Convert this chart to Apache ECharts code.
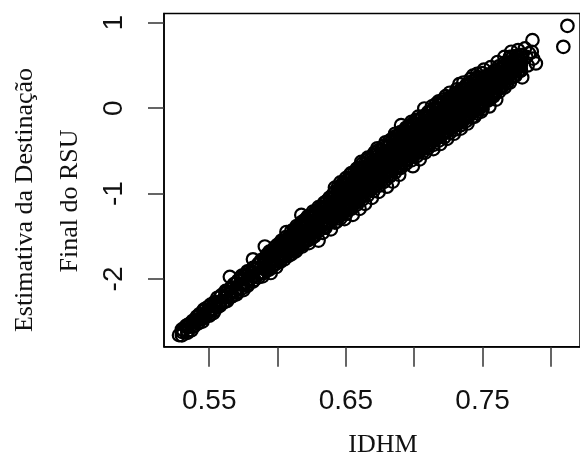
<!DOCTYPE html>
<html>
<head>
<meta charset="utf-8">
<script src="https://cdn.jsdelivr.net/npm/echarts@6/dist/echarts.min.js"></script>
<style>html,body{margin:0;padding:0;background:#fff}#c{width:580px;height:457px}</style>
</head>
<body>
<div id="c"></div>
<script>
const xTicks = [0.55, 0.60, 0.65, 0.70, 0.75, 0.80];
const xLabels = [0.55, 0.65, 0.75];
const yTicks = [-2, -1, 0, 1];
const xTitle = 'IDHM';
const yTitle = ['Estimativa da Destinação', 'Final do RSU'];

// Scattered points (edges and outliers): [IDHM, Estimativa]
const pontosBorda = [
  [0.5279,-2.658],[0.531,-2.60],[0.533,-2.55],[0.534,-2.63],
  [0.536,-2.52],[0.537,-2.60],[0.539,-2.49],[0.539,-2.55],
  [0.541,-2.44],[0.542,-2.52],[0.543,-2.41],[0.544,-2.47],[0.545,-2.50],
  [0.546,-2.36],[0.547,-2.44],[0.548,-2.34],[0.549,-2.40],[0.550,-2.43],
  [0.551,-2.30],[0.552,-2.37],[0.553,-2.40],[0.554,-2.28],[0.555,-2.33],
  [0.556,-2.22],[0.557,-2.32],[0.558,-2.27],[0.559,-2.19],[0.560,-2.28],
  [0.561,-2.22],[0.562,-2.14],[0.563,-2.26],[0.564,-2.18],[0.5651,-1.975],
  [0.566,-2.10],[0.567,-2.20],[0.568,-2.06],[0.569,-2.14],[0.570,-2.18],
  [0.571,-2.02],[0.572,-2.10],[0.573,-1.98],[0.574,-2.07],[0.575,-2.13],
  [0.576,-1.95],[0.577,-2.04],[0.578,-2.08],[0.579,-1.91],[0.580,-2.00],
  [0.581,-1.92],[0.582,-1.77],[0.583,-2.01],[0.584,-1.87],[0.585,-1.96],
  [0.586,-1.83],[0.587,-1.93],[0.588,-1.78],[0.589,-1.97],[0.590,-1.87],
  [0.5907,-1.62],[0.591,-1.78],[0.592,-1.90],[0.593,-1.72],[0.594,-1.84],[0.595,-1.93],
  [0.596,-1.68],[0.597,-1.80],[0.598,-1.63],[0.599,-1.86],[0.600,-1.74],[0.600,-1.60],
  [0.601,-1.66],[0.602,-1.80],[0.603,-1.55],[0.604,-1.71],[0.605,-1.77],[0.605,-1.60],
  [0.6065,-1.45],[0.607,-1.62],[0.608,-1.73],[0.609,-1.52],[0.610,-1.67],[0.610,-1.58],
  [0.611,-1.48],[0.612,-1.62],[0.613,-1.68],[0.614,-1.42],[0.615,-1.56],[0.615,-1.63],
  [0.6174,-1.25],[0.616,-1.38],[0.617,-1.52],[0.618,-1.62],[0.619,-1.45],[0.620,-1.55],[0.620,-1.36],
  [0.621,-1.30],[0.622,-1.48],[0.623,-1.58],[0.624,-1.40],[0.625,-1.26],[0.625,-1.52],
  [0.626,-1.35],[0.627,-1.50],[0.628,-1.22],[0.629,-1.42],[0.630,-1.55],[0.630,-1.30],
  [0.631,-1.18],[0.632,-1.36],[0.633,-1.46],[0.634,-1.26],[0.635,-1.10],[0.635,-1.40],
  [0.636,-1.22],[0.637,-1.34],[0.638,-1.05],[0.639,-1.42],[0.640,-1.15],[0.640,-1.28],
  [0.641,-1.00],[0.642,-1.22],[0.643,-1.33],[0.644,-1.10],[0.645,-0.96],[0.645,-1.26],[0.643,-1.16],
  [0.646,-1.05],[0.647,-1.20],[0.648,-0.90],[0.649,-1.30],[0.650,-1.10],[0.650,-0.98],[0.648,-1.15],
  [0.651,-0.85],[0.652,-1.02],[0.653,-1.18],[0.654,-0.92],[0.655,-1.25],[0.655,-1.06],[0.653,-0.78],
  [0.656,-0.95],[0.657,-0.80],[0.658,-1.10],[0.659,-0.70],[0.660,-0.88],[0.660,-1.18],[0.658,-1.00],
  [0.6612,-0.63],[0.662,-0.82],[0.663,-0.98],[0.664,-1.12],[0.665,-0.74],[0.665,-0.90],[0.663,-0.70],
  [0.666,-0.58],[0.667,-0.80],[0.668,-0.95],[0.669,-1.05],[0.670,-0.68],[0.670,-0.86],[0.668,-0.74],
  [0.671,-0.52],[0.672,-0.72],[0.673,-0.88],[0.674,-0.98],[0.675,-0.62],[0.675,-0.78],[0.673,-0.47],
  [0.676,-0.55],[0.677,-0.70],[0.678,-0.86],[0.679,-0.40],[0.680,-0.62],[0.680,-0.92],[0.678,-0.75],
  [0.681,-0.45],[0.682,-0.60],[0.683,-0.78],[0.6843,-0.86],[0.684,-0.36],[0.685,-0.52],[0.685,-0.68],
  [0.686,-0.30],[0.687,-0.48],[0.688,-0.62],[0.689,-0.78],[0.690,-0.40],[0.690,-0.55],[0.688,-0.70],
  [0.6904,-0.199],[0.691,-0.35],[0.692,-0.50],[0.693,-0.66],[0.694,-0.28],[0.695,-0.45],[0.695,-0.60],
  [0.696,-0.22],[0.697,-0.38],[0.698,-0.55],[0.699,-0.68],[0.700,-0.30],[0.700,-0.46],[0.698,-0.16],
  [0.701,-0.14],[0.702,-0.32],[0.703,-0.48],[0.704,-0.60],[0.705,-0.24],[0.705,-0.40],[0.703,-0.10],
  [0.7074,-0.004],[0.706,-0.18],[0.707,-0.35],[0.708,-0.52],[0.709,-0.26],[0.710,-0.10],[0.710,-0.42],
  [0.711,-0.04],[0.712,-0.20],[0.713,-0.38],[0.714,-0.48],[0.715,-0.12],[0.715,-0.28],[0.713,0.02],
  [0.716,0.05],[0.717,-0.15],[0.718,-0.32],[0.719,-0.42],[0.720,-0.06],[0.720,-0.22],[0.718,0.08],
  [0.721,0.10],[0.722,-0.08],[0.723,-0.26],[0.724,-0.36],[0.725,0.00],[0.725,-0.16],[0.723,0.14],
  [0.726,0.18],[0.727,-0.02],[0.728,-0.20],[0.729,-0.30],[0.730,0.06],[0.730,-0.10],[0.728,0.12],
  [0.731,0.22],[0.732,0.04],[0.733,-0.14],[0.734,-0.24],[0.735,0.12],[0.735,-0.04],[0.733,0.28],
  [0.736,0.30],[0.737,0.10],[0.738,-0.08],[0.739,-0.18],[0.740,0.18],[0.740,0.02],[0.738,0.25],
  [0.741,0.34],[0.742,0.16],[0.743,-0.02],[0.744,-0.10],[0.745,0.24],[0.745,0.08],[0.743,0.38],
  [0.746,0.40],[0.747,0.22],[0.748,0.04],[0.749,-0.04],[0.750,0.30],[0.750,0.14],
  [0.751,0.45],[0.752,0.28],[0.753,0.10],[0.754,0.36],[0.755,0.20],[0.755,0.02],
  [0.756,0.48],[0.757,0.32],[0.758,0.16],[0.759,0.40],[0.760,0.24],[0.760,0.10],
  [0.761,0.54],[0.762,0.38],[0.763,0.24],[0.764,0.46],[0.765,0.32],
  [0.766,0.60],[0.767,0.44],[0.768,0.30],[0.769,0.52],[0.770,0.40],
  [0.771,0.66],[0.772,0.50],[0.773,0.38],[0.774,0.58],[0.775,0.46],
  [0.776,0.68],[0.777,0.56],[0.778,0.44],[0.779,0.36],[0.779,0.62],
  [0.781,0.70],[0.782,0.60],[0.783,0.50],[0.784,0.64],
  [0.7865,0.796],[0.789,0.523],[0.786,0.66],[0.787,0.58],[0.8091,0.718],[0.8121,0.964]
];

// Dense core of the cloud, read column by column: IDHM of each column ...
const nucleoIdhm = [
  0.530,0.534,0.538,0.542,0.546,0.550,0.554,0.558,0.562,0.566,0.570,0.574,0.578,0.582,0.586,0.590,
  0.594,0.598,0.602,0.606,0.610,0.614,0.618,0.622,0.626,0.630,0.634,0.638,0.642,0.646,0.650,0.654,
  0.658,0.662,0.666,0.670,0.674,0.678,0.682,0.686,0.690,0.694,0.698,0.702,0.706,0.710,0.714,0.718,
  0.722,0.726,0.730,0.734,0.738,0.742,0.746,0.750,0.754,0.758,0.762,0.766,0.770,0.774,0.778
];
// ... and the estimates stacked in that column
const nucleoEst = [
  [-2.66,-2.62,-2.59],[-2.61,-2.57,-2.54],[-2.56,-2.53,-2.49],[-2.51,-2.47,-2.44],
  [-2.46,-2.42,-2.37],[-2.42,-2.36,-2.32],[-2.37,-2.31,-2.27],[-2.31,-2.27,-2.21],
  [-2.26,-2.20,-2.16],[-2.21,-2.15,-2.11],[-2.16,-2.11,-2.05],[-2.11,-2.06,-2.00,-1.96],
  [-2.06,-2.01,-1.95,-1.91],[-2.03,-1.97,-1.93,-1.87],[-1.98,-1.93,-1.87,-1.82],[-1.93,-1.88,-1.82,-1.77],
  [-1.89,-1.83,-1.79,-1.73,-1.68],[-1.83,-1.78,-1.72,-1.67,-1.63],[-1.78,-1.73,-1.67,-1.61,-1.58],[-1.73,-1.66,-1.62,-1.56,-1.51],
  [-1.71,-1.65,-1.59,-1.54,-1.49,-1.44],[-1.66,-1.61,-1.54,-1.48,-1.43,-1.38],[-1.60,-1.55,-1.49,-1.44,-1.37,-1.33],[-1.55,-1.48,-1.43,-1.38,-1.32,-1.27],
  [-1.50,-1.45,-1.38,-1.33,-1.28,-1.21],[-1.44,-1.39,-1.34,-1.27,-1.21,-1.16],[-1.39,-1.34,-1.27,-1.22,-1.17,-1.11],[-1.34,-1.28,-1.23,-1.17,-1.10,-1.05],
  [-1.34,-1.27,-1.22,-1.16,-1.11,-1.04,-0.98,-0.93],[-1.29,-1.23,-1.18,-1.11,-1.05,-1.00,-0.93,-0.87],[-1.24,-1.18,-1.13,-1.06,-1.00,-0.94,-0.89,-0.82],[-1.18,-1.13,-1.06,-1.00,-0.95,-0.88,-0.82,-0.76],
  [-1.13,-1.07,-1.02,-0.95,-0.89,-0.84,-0.77,-0.71],[-1.07,-1.02,-0.95,-0.89,-0.83,-0.78,-0.71,-0.65],[-1.02,-0.96,-0.91,-0.84,-0.78,-0.72,-0.67,-0.60],[-0.97,-0.91,-0.85,-0.80,-0.73,-0.67,-0.62,-0.55],
  [-0.91,-0.86,-0.79,-0.73,-0.68,-0.61,-0.55,-0.49],[-0.86,-0.80,-0.75,-0.68,-0.62,-0.56,-0.51,-0.44],[-0.80,-0.74,-0.69,-0.62,-0.56,-0.51,-0.44,-0.38],[-0.75,-0.70,-0.63,-0.57,-0.52,-0.45,-0.39,-0.33],
  [-0.70,-0.64,-0.59,-0.52,-0.46,-0.41,-0.34,-0.28],[-0.65,-0.60,-0.53,-0.47,-0.42,-0.35,-0.29,-0.23],[-0.61,-0.55,-0.50,-0.43,-0.37,-0.32,-0.25,-0.19],[-0.56,-0.51,-0.44,-0.38,-0.33,-0.26,-0.20,-0.14],
  [-0.52,-0.46,-0.41,-0.34,-0.28,-0.23,-0.16,-0.10],[-0.47,-0.42,-0.35,-0.29,-0.24,-0.17,-0.11,-0.05],[-0.43,-0.37,-0.32,-0.25,-0.19,-0.14,-0.07,-0.01],[-0.38,-0.33,-0.26,-0.20,-0.15,-0.08,-0.02,0.04],
  [-0.34,-0.28,-0.23,-0.16,-0.10,-0.05,0.02,0.08],[-0.29,-0.24,-0.17,-0.11,-0.06,0.01,0.07,0.13],[-0.25,-0.19,-0.14,-0.07,-0.01,0.04,0.11,0.17],[-0.20,-0.15,-0.08,-0.02,0.03,0.10,0.16,0.22],
  [-0.15,-0.10,-0.03,0.03,0.08,0.15,0.21,0.27],[-0.11,-0.05,0.00,0.07,0.13,0.18,0.25,0.31],[-0.06,0.00,0.05,0.12,0.18,0.23,0.30,0.36],[-0.01,0.04,0.11,0.17,0.22,0.29,0.35,0.41],
  [0.09,0.14,0.21,0.27,0.32,0.39],[0.14,0.20,0.25,0.32,0.38,0.43],[0.19,0.24,0.31,0.37,0.42,0.49],[0.24,0.30,0.35,0.42,0.48,0.53],
  [0.30,0.35,0.42,0.48,0.53,0.60],[0.38,0.43,0.50,0.56,0.61],[0.44,0.50,0.55,0.62]
];

// Second, staggered set of core columns, where the cloud is solid
const nucleo2Idhm = [
  0.592,0.596,0.600,0.604,0.608,0.612,0.616,0.620,0.624,0.628,0.632,0.636,0.640,0.644,0.648,0.652,
  0.656,0.660,0.664,0.668,0.672,0.676,0.680,0.684,0.688,0.692,0.696,0.700,0.704,0.708,0.712,0.716,
  0.720,0.724,0.728,0.732,0.736,0.740,0.744,0.748,0.752,0.756,0.760,0.764,0.768,0.772,0.776
];
const nucleo2Est = [
  [-1.90,-1.84,-1.79,-1.72],[-1.85,-1.78,-1.73,-1.67],[-1.79,-1.74,-1.67,-1.61],[-1.74,-1.68,-1.63,-1.56],
  [-1.69,-1.63,-1.58,-1.51],[-1.66,-1.60,-1.55,-1.48,-1.42],[-1.61,-1.56,-1.49,-1.43,-1.38],[-1.55,-1.49,-1.44,-1.37,-1.31],
  [-1.50,-1.45,-1.38,-1.32,-1.27],[-1.44,-1.38,-1.33,-1.26,-1.20],[-1.39,-1.34,-1.27,-1.21,-1.16],[-1.33,-1.27,-1.22,-1.15,-1.09],
  [-1.28,-1.23,-1.16,-1.10,-1.05],[-1.29,-1.23,-1.18,-1.11,-1.05,-1.00,-0.93],[-1.23,-1.17,-1.12,-1.05,-0.99,-0.94,-0.87],[-1.18,-1.12,-1.07,-1.00,-0.94,-0.89,-0.82],
  [-1.12,-1.06,-1.01,-0.94,-0.88,-0.83,-0.76],[-1.07,-1.01,-0.96,-0.89,-0.83,-0.78,-0.71],[-1.01,-0.95,-0.90,-0.83,-0.77,-0.72,-0.65],[-0.96,-0.90,-0.85,-0.78,-0.72,-0.67,-0.60],
  [-0.90,-0.84,-0.79,-0.72,-0.66,-0.61,-0.54],[-0.85,-0.79,-0.74,-0.67,-0.61,-0.56,-0.49],[-0.80,-0.74,-0.69,-0.62,-0.56,-0.51,-0.44],[-0.74,-0.68,-0.63,-0.56,-0.50,-0.45,-0.38],
  [-0.69,-0.63,-0.58,-0.51,-0.45,-0.40,-0.33],[-0.64,-0.58,-0.53,-0.46,-0.40,-0.35,-0.28],[-0.59,-0.53,-0.48,-0.41,-0.35,-0.30,-0.23],[-0.55,-0.49,-0.44,-0.37,-0.31,-0.26,-0.19],
  [-0.50,-0.44,-0.39,-0.32,-0.26,-0.21,-0.14],[-0.46,-0.40,-0.35,-0.28,-0.22,-0.17,-0.10],[-0.41,-0.35,-0.30,-0.23,-0.17,-0.12,-0.05],[-0.36,-0.30,-0.25,-0.18,-0.12,-0.07,0.00],
  [-0.32,-0.26,-0.21,-0.14,-0.08,-0.03,0.04],[-0.27,-0.21,-0.16,-0.09,-0.03,0.02,0.09],[-0.23,-0.17,-0.12,-0.05,0.01,0.06,0.13],[-0.18,-0.12,-0.07,0.00,0.06,0.11,0.18],
  [-0.14,-0.08,-0.03,0.04,0.10,0.15,0.22],[-0.09,-0.03,0.02,0.09,0.15,0.20,0.27],[-0.04,0.02,0.07,0.14,0.20,0.25,0.32],[0.00,0.06,0.11,0.18,0.24,0.29,0.36],
  [0.11,0.17,0.22,0.29,0.35],[0.15,0.21,0.26,0.33,0.39],[0.20,0.26,0.31,0.38,0.44],[0.24,0.30,0.35,0.42,0.48],
  [0.29,0.35,0.40,0.47,0.53],[0.36,0.42,0.47,0.54,0.60],[0.43,0.49,0.54,0.61]
];

const pontos = pontosBorda.slice();
nucleoIdhm.forEach((x, i) => nucleoEst[i].forEach(y => pontos.push([x, y])));
nucleo2Idhm.forEach((x, i) => nucleo2Est[i].forEach(y => pontos.push([x, y])));

const chart = echarts.init(document.getElementById('c'), null, {renderer: 'canvas'});
const axisFont = {fontFamily: '"Liberation Sans", Arial, sans-serif', fontSize: 28, color: '#111'};
chart.setOption({
  animation: false,
  backgroundColor: '#fff',
  grid: {left: 164, top: 13.5, right: -1, bottom: 110.3, show: true, borderColor: '#000', borderWidth: 1.5, containLabel: false},
  xAxis: {
    type: 'value', min: 0.5169, max: 0.8213,
    axisLine: {show: true, onZero: false, lineStyle: {color: '#000', width: 1.5}},
    axisTick: {show: true, length: 20, lineStyle: {color: '#333', width: 1.5}, customValues: xTicks},
    axisLabel: Object.assign({show: true, margin: 41, customValues: xLabels, formatter: v => v.toFixed(2)}, axisFont),
    splitLine: {show: false}
  },
  yAxis: {
    type: 'value', min: -2.793, max: 1.108,
    axisLine: {show: true, onZero: false, lineStyle: {color: '#000', width: 1.5}},
    axisTick: {show: true, length: 16, lineStyle: {color: '#333', width: 1.5}, customValues: yTicks},
    axisLabel: Object.assign({show: true, margin: 36, rotate: 90, customValues: yTicks, formatter: v => String(v)}, axisFont),
    splitLine: {show: false}
  },
  graphic: [
    {type: 'text', x: 383, y: 445, style: {text: xTitle, font: '26px "Liberation Serif", "Times New Roman", serif', fill: '#111', textAlign: 'center', textVerticalAlign: 'middle'}},
    {type: 'text', x: 25, y: 200, rotation: Math.PI / 2, style: {text: yTitle[0], font: '26px "Liberation Serif", "Times New Roman", serif', fill: '#111', textAlign: 'center', textVerticalAlign: 'middle'}},
    {type: 'text', x: 70, y: 201, rotation: Math.PI / 2, style: {text: yTitle[1], font: '26px "Liberation Serif", "Times New Roman", serif', fill: '#111', textAlign: 'center', textVerticalAlign: 'middle'}}
  ],
  series: [{
    type: 'scatter',
    data: pontos,
    symbol: 'circle',
    symbolSize: 12.5,
    itemStyle: {color: 'rgba(0,0,0,0)', borderColor: '#000', borderWidth: 2.2, opacity: 1},
    emphasis: {disabled: true}
  }]
});
</script>
</body>
</html>
